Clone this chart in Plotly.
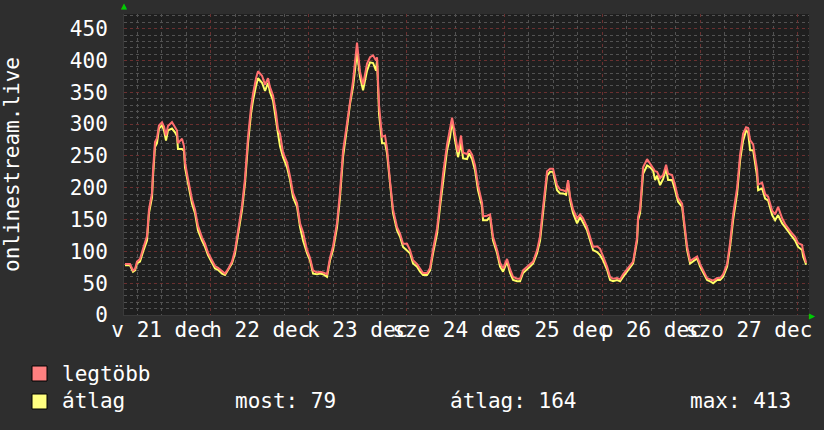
import plotly.graph_objects as go
import pandas as pd

# ---------------- data ----------------
series_start = "2014-12-21 00:00"
x_range = ["2014-12-21 02:42", "2014-12-28 02:42"]

# hours since series_start for each reading
hours = [2.94, 4.17, 4.91, 5.40, 5.89, 6.62, 7.36, 8.34, 8.83, 9.57, 9.81, 10.30, 10.79, 11.28,
         12.02, 12.51, 13.00, 13.49, 14.47, 15.21, 15.70, 15.94, 16.93, 17.42, 17.66, 18.40,
         19.38, 20.11, 20.85, 21.83, 22.57, 23.30, 24.28, 25.02, 25.76, 26.74, 27.47, 28.21,
         29.19, 29.93, 30.66, 31.64, 32.38, 33.12, 33.85, 34.34, 35.08, 35.57, 36.55, 37.29,
         38.02, 38.51, 39.25, 39.98, 40.47, 40.97, 41.70, 42.68, 43.42, 44.15, 45.14, 45.87,
         46.61, 47.59, 48.32, 49.06, 50.04, 50.78, 51.51, 52.49, 53.23, 53.97, 54.95, 55.68,
         56.42, 57.40, 58.14, 58.87, 59.85, 60.59, 61.33, 62.31, 63.04, 63.78, 64.51, 64.76,
         65.25, 65.99, 66.72, 67.21, 67.95, 68.68, 69.67, 70.40, 71.14, 72.12, 72.85, 73.59,
         74.57, 75.31, 76.04, 77.02, 77.76, 78.50, 79.48, 80.21, 80.95, 81.93, 82.67, 83.16,
         83.89, 84.63, 85.36, 85.86, 86.84, 87.33, 88.06, 88.80, 89.53, 90.52, 90.76, 91.74,
         92.48, 93.21, 94.20, 94.93, 95.67, 96.65, 97.38, 98.12, 99.10, 99.84, 100.57, 101.55,
         102.29, 103.03, 104.01, 104.74, 105.48, 105.97, 106.46, 107.20, 107.93, 108.91, 109.65,
         110.39, 111.12, 111.61, 112.10, 112.84, 113.82, 114.56, 115.29, 116.27, 117.01, 117.74,
         118.73, 119.46, 120.20, 121.18, 121.91, 122.65, 123.63, 124.37, 125.10, 126.08, 126.82,
         127.56, 128.54, 128.78, 129.27, 129.76, 130.01, 130.99, 131.73, 132.46, 132.95, 133.44,
         134.18, 134.92, 135.65, 136.14, 137.12, 137.86, 138.59, 139.58, 140.31, 140.80, 141.54,
         142.27, 143.26, 143.99, 144.73, 145.71, 146.44, 147.18, 148.16, 148.90, 149.63, 150.61,
         151.35, 152.09, 153.07, 153.80, 154.54, 155.27, 155.77, 156.26, 157.00, 157.98, 158.22,
         159.20, 159.94, 160.67, 161.66, 162.39, 163.12, 164.11, 164.84, 165.58, 166.56, 167.30,
         168.03, 169.01, 169.26, 170.00]

# "átlag" (average)
avg_vals = [78, 78, 68, 70, 81, 84, 99, 117, 160, 185, 217, 264, 270, 293,
            298, 290, 274, 290, 293, 287, 281, 261, 261, 258, 232, 207,
            175, 160, 133, 117, 107, 94, 81, 73, 71, 65, 63, 70,
            81, 97, 128, 165, 207, 270, 316, 337, 360, 372, 365, 352,
            365, 350, 337, 310, 285, 265, 248, 232, 212, 185, 170, 138,
            117, 97, 86, 65, 64, 65, 64, 60, 86, 102, 138, 185,
            248, 295, 332, 358, 413, 374, 353, 384, 397, 396, 384, 400,
            316, 270, 270, 254, 201, 160, 133, 123, 107, 102, 97, 81,
            76, 68, 63, 63, 70, 97, 128, 170, 212, 259, 280, 306,
            274, 248, 270, 246, 245, 254, 245, 227, 196, 170, 149, 149,
            154, 117, 97, 76, 68, 84, 66, 55, 53, 53, 66, 71,
            76, 81, 97, 117, 160, 191, 219, 225, 225, 196, 191,
            191, 189, 209, 180, 160, 144, 154, 146, 133, 117, 102,
            99, 94, 86, 71, 55, 53, 55, 53, 60, 68, 75,
            81, 117, 149, 160, 196, 222, 235, 232, 227, 212, 219,
            204, 214, 230, 212, 212, 196, 178, 170, 128, 102, 81,
            84, 89, 76, 66, 55, 53, 50, 55, 55, 60, 76,
            107, 149, 191, 243, 274, 290, 287, 259, 259, 217, 196,
            199, 183, 180, 157, 149, 157, 144, 138, 131, 123, 117,
            107, 102, 92, 79]

# "legtöbb" (maximum)
max_vals = [80, 80, 70, 72, 84, 88, 104, 124, 166, 192, 226, 272, 278, 298,
            303, 296, 282, 297, 303, 296, 290, 270, 277, 265, 240, 214,
            182, 166, 140, 122, 112, 98, 85, 77, 74, 68, 65, 72,
            84, 102, 134, 172, 215, 280, 326, 348, 372, 383, 376, 362,
            372, 358, 345, 318, 292, 285, 255, 240, 218, 192, 176, 144,
            130, 102, 90, 70, 67, 68, 67, 64, 90, 108, 145, 194,
            258, 304, 342, 368, 428, 382, 362, 395, 405, 408, 400, 405,
            330, 280, 282, 262, 210, 166, 138, 128, 112, 112, 102, 86,
            80, 72, 66, 66, 74, 103, 136, 178, 222, 268, 290, 310,
            284, 256, 282, 255, 253, 260, 252, 235, 204, 176, 155, 156,
            158, 123, 102, 82, 73, 88, 72, 60, 57, 57, 70, 75,
            79, 84, 102, 124, 170, 198, 226, 230, 230, 204, 197,
            196, 194, 212, 186, 166, 152, 158, 152, 138, 122, 107,
            108, 104, 92, 76, 60, 57, 58, 56, 64, 72, 78,
            84, 122, 154, 166, 204, 232, 245, 238, 232, 226, 225,
            215, 220, 236, 222, 220, 204, 184, 175, 134, 108, 85,
            88, 92, 80, 70, 58, 56, 54, 58, 58, 64, 80,
            114, 158, 200, 252, 285, 295, 294, 275, 268, 228, 205,
            208, 190, 186, 164, 158, 170, 152, 143, 136, 128, 123,
            113, 110, 100, 82]

day_ticks = ["2014-12-21 12:00", "2014-12-22 12:00", "2014-12-23 12:00", "2014-12-24 12:00",
             "2014-12-25 12:00", "2014-12-26 12:00", "2014-12-27 12:00"]
day_labels = ["v 21 dec", "h 22 dec", "k 23 dec", "sze 24 dec", "cs 25 dec", "p 26 dec", "szo 27 dec"]

series_names = ["legtöbb", "átlag"]
stat_last = 79
stat_avg = 164
stat_max = 413
y_title = "onlinestream.live"

# ---------------- styling ----------------
FONT = "DejaVu Sans Mono"
BG = "#2e2e2e"
RED_LINE = "#ff6f6f"
YEL_LINE = "#ffff66"
RED_SW = "#ff8080"
YEL_SW = "#ffff80"
MINOR = "#525252"
MAJOR = "#6a3030"

times = pd.Timestamp(series_start) + pd.to_timedelta(hours, unit="h")

fig = go.Figure()
fig.add_trace(go.Scatter(x=times, y=max_vals, mode="lines", line=dict(color=RED_LINE, width=2),
                         showlegend=False, xaxis="x2", name=series_names[0]))
fig.add_trace(go.Scatter(x=times, y=avg_vals, mode="lines", line=dict(color=YEL_LINE, width=2),
                         showlegend=False, name=series_names[1]))

fig.update_layout(
    width=824, height=430,
    margin=dict(l=124, r=15, t=14, b=115),
    paper_bgcolor=BG, plot_bgcolor="#1f1f1f",
    font=dict(family=FONT, size=21, color="white"),
    showlegend=False,
    xaxis=dict(type="date", range=x_range, tickmode="array", tickvals=day_ticks, ticktext=day_labels,
               tickangle=0, showgrid=False, zeroline=False, ticks="", ticklabelstandoff=-4,
               automargin=False, showline=True, linecolor="#3a3a3a", linewidth=1,
               minor=dict(tickmode="linear", tick0="2014-12-21", dtick=6 * 3600 * 1000, showgrid=True,
                          gridcolor=MINOR, griddash="dot", gridwidth=1)),
    xaxis2=dict(type="date", overlaying="x", matches="x", side="bottom", tick0="2014-12-21",
                dtick=86400000, showgrid=True, gridcolor=MAJOR, griddash="dot", gridwidth=1,
                showticklabels=False, ticks="", zeroline=False, automargin=False),
    yaxis=dict(range=[0, 473], tick0=0, dtick=50, showgrid=True, gridcolor=MAJOR, griddash="dot",
               zeroline=False, ticks="", ticklabelstandoff=11, showline=True, linecolor="#3a3a3a",
               automargin=False,
               minor=dict(dtick=10, showgrid=True, gridcolor=MINOR, griddash="dot", gridwidth=1),
               title=dict(text=y_title, standoff=48, font=dict(size=21))),
)

# legend (RRD style): swatches + labels + stats
sw_specs = [(series_names[0], RED_SW, -0.1694, -0.2193, -0.1944),
            (series_names[1], YEL_SW, -0.2625, -0.3123, -0.2857)]
for nm, col, ytop, ybot, ymid in sw_specs:
    fig.add_shape(type="rect", xref="paper", yref="paper", x0=-0.1343, x1=-0.1124, y0=ybot, y1=ytop,
                  fillcolor=col, line=dict(color="black", width=1))
    fig.add_annotation(text=nm, xref="paper", yref="paper", x=-0.0934, y=ymid, xanchor="left",
                       yanchor="middle", showarrow=False, font=dict(size=21, color="white", family=FONT))

ann_y = -0.2857
for txt, xp in [(f"most: {stat_last}", 0.159), (f"átlag: {stat_avg}", 0.473), (f"max: {stat_max}", 0.823)]:
    fig.add_annotation(text=txt, xref="paper", yref="paper", x=xp, y=ann_y, xanchor="left", yanchor="middle",
                       showarrow=False, font=dict(size=21, color="white", family=FONT))

# axis arrows
fig.add_annotation(text="▲", xref="paper", yref="paper", x=0, y=1, yshift=1, xanchor="center", yanchor="bottom",
                   showarrow=False, font=dict(size=10, color="#00cc00"))
fig.add_annotation(text="▶", xref="paper", yref="paper", x=1, y=0, xshift=-2, xanchor="left", yanchor="middle",
                   showarrow=False, font=dict(size=10, color="#00cc00"))

fig.write_html("out.html", config={"displayModeBar": False},
               post_script=f"document.body.style.margin='0';document.body.style.background='{BG}';")
